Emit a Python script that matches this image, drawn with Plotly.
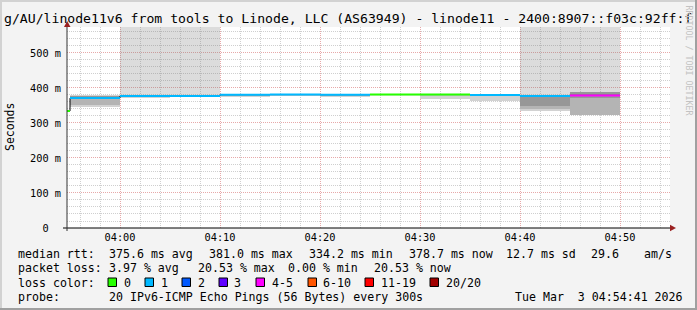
import plotly.graph_objects as go
import pandas as pd

# ---------------- data ----------------
DAY = "2026-03-03 "
step_end = ["03:55", "04:00", "04:05", "04:10", "04:15", "04:20",
            "04:25", "04:30", "04:35", "04:40", "04:45", "04:50"]
median_ms = [334.2, 371.0, 377.0, 377.0, 380.5, 381.0,
             380.5, 381.0, 381.0, 380.0, 377.0, 378.7]
loss_pings = [0, 1, 1, 1, 1, 1, 1, 0, 0, 1, 1, 4]
# smoke layers (ms)
light_lo = [334.2, 346, 372, 375, 374, 379, 373, 380, 369, 363, 335, 323]
light_hi = [334.2, 379, 377, 378, 381, 381, 381, 382, 381, 381, 377, 389]
mid_lo = [334.2, 352, 377, 377, 380.5, 381, 380.5, 381, 381, 380, 340, 323]
mid_hi = [334.2, 378, 377, 377, 380.5, 381, 380.5, 381, 381, 380, 376, 389]
dark_lo = [334.2, 368, 377, 377, 380.5, 381, 380.5, 381, 381, 380, 348, 372]
dark_hi = [334.2, 378, 377, 377, 380.5, 381, 380.5, 381, 381, 380, 376, 389]
loss_shade = [0, 0, 1, 1, 0, 0, 0, 0, 0, 0, 1, 1]

loss_labels = ["0", "1", "2", "3", "4-5", "6-10", "11-19", "20/20"]
loss_max = [0, 1, 2, 3, 5, 10, 19, 20]
loss_colors = ["#26ff00", "#00b8ff", "#0059ff", "#5e00ff",
               "#ff00ff", "#ff5500", "#ff0000", "#a10000"]

y_ticks = [0, 100, 200, 300, 400, 500]
y_ticktext = ["0\u00a0\u00a0", "100 m", "200 m", "300 m", "400 m", "500 m"]
x_ticks = ["04:00", "04:10", "04:20", "04:30", "04:40", "04:50"]

title_text = "g/AU/linode11v6 from tools to Linode, LLC (AS63949) - linode11 - 2400:8907::f03c:92ff:f"
rtt_stats = ["median rtt:", "375.6 ms avg", "381.0 ms max", "334.2 ms min",
             "378.7 ms now", "12.7 ms sd", "29.6", "am/s"]
loss_stats = ["packet loss:", "3.97 % avg", "20.53 % max", "0.00 % min", "20.53 % now"]
probe_stats = ["probe:", "20 IPv6-ICMP Echo Pings (56 Bytes) every 300s",
               "Tue Mar\u00a0\u00a03 04:54:41 2026"]

STEP_S = 300
Y_TOP = 574
X_RANGE = [DAY + "03:54:42", DAY + "04:55:00"]

# ---------------- geometry helpers ----------------
W, H = 697, 310
ML, MR, MT, MB = 67, 27, 27, 82
PW, PH = W - ML - MR, H - MT - MB
def px(x):
    return (x - ML) / PW
def py(y):
    return (H - MB - y) / PH

MONO = "DejaVu Sans Mono"

ends = pd.to_datetime([DAY + t for t in step_end])
starts = ends - pd.Timedelta(seconds=STEP_S)

def loss_idx(n):
    for i, m in enumerate(loss_max):
        if n <= m:
            return i
    return len(loss_max) - 1

fig = go.Figure()

def smoke(lo, hi, color):
    fig.add_trace(go.Bar(
        x=ends, y=[h - l for l, h in zip(lo, hi)], base=lo,
        width=STEP_S * 1000, offset=-STEP_S * 1000,
        marker=dict(color=color, line=dict(width=0)),
        showlegend=False, hoverinfo="skip"))

# loss background to top
shade_base = [h for h in light_hi]
shade_h = [(Y_TOP - b) if s else 0 for b, s in zip(shade_base, loss_shade)]
fig.add_trace(go.Bar(
    x=ends, y=shade_h, base=shade_base,
    width=STEP_S * 1000, offset=-STEP_S * 1000,
    marker=dict(color="rgba(120,120,120,0.26)", line=dict(width=0)),
    showlegend=False, hoverinfo="skip"))

smoke(light_lo, light_hi, "#d2d2d2")
smoke(mid_lo, mid_hi, "#b4b4b4")
smoke(dark_lo, dark_hi, "#979797")

# black step connector
fig.add_trace(go.Scatter(
    x=list(starts) + [ends[-1]], y=median_ms + [median_ms[-1]],
    mode="lines", line=dict(color="#000000", width=1, shape="hv"),
    showlegend=False, hoverinfo="skip"))

# colored median segments
for ci, col in enumerate(loss_colors):
    xs, ys = [], []
    for s, e, m, n in zip(starts, ends, median_ms, loss_pings):
        if loss_idx(n) == ci:
            xs += [s, e, None]
            ys += [m, m, None]
    if xs:
        fig.add_trace(go.Scatter(
            x=xs, y=ys, mode="lines", line=dict(color=col, width=2),
            showlegend=False, hoverinfo="skip"))

# ---------------- layout ----------------
grid_major = "#e7a9a9"
grid_minor = "#cfcfcf"
fig.update_layout(
    width=W, height=H,
    margin=dict(l=ML, r=MR, t=MT, b=MB, pad=0),
    paper_bgcolor="#f3f3f3", plot_bgcolor="#ffffff",
    barmode="overlay", bargap=0,
    showlegend=False,
    font=dict(family=MONO, color="#000000"),
    xaxis=dict(
        type="date", range=X_RANGE,
        tickvals=[DAY + t for t in x_ticks], ticktext=x_ticks,
        tickfont=dict(family=MONO, size=10.3, color="#000000"),
        showgrid=True, gridcolor=grid_major, griddash="1px,1px", gridwidth=1,
        minor=dict(dtick=120000, tick0=DAY + "04:00", showgrid=True,
                   gridcolor=grid_minor, griddash="1px,1px", gridwidth=1),
        zeroline=False, showline=False, ticks="", ticklabelstandoff=2,
        fixedrange=True,
    ),
    yaxis=dict(
        range=[0, Y_TOP],
        tickvals=y_ticks, ticktext=y_ticktext,
        tickfont=dict(family=MONO, size=10.3, color="#000000"),
        showgrid=True, gridcolor=grid_major, griddash="1px,1px", gridwidth=1,
        minor=dict(dtick=20, tick0=0, showgrid=True,
                   gridcolor=grid_minor, griddash="1px,1px", gridwidth=1),
        zeroline=False, showline=False, ticks="", ticklabelstandoff=5,
        fixedrange=True,
    ),
)

shapes = []
# frame
shapes.append(dict(type="line", xref="paper", yref="paper",
                   x0=px(0), x1=px(W), y0=py(1), y1=py(1),
                   line=dict(color="#d2d2d2", width=2)))
shapes.append(dict(type="line", xref="paper", yref="paper",
                   x0=px(1), x1=px(1), y0=py(0), y1=py(H),
                   line=dict(color="#d2d2d2", width=2)))
shapes.append(dict(type="line", xref="paper", yref="paper",
                   x0=px(0), x1=px(W), y0=py(H - 1), y1=py(H - 1),
                   line=dict(color="#a0a0a0", width=2)))
shapes.append(dict(type="line", xref="paper", yref="paper",
                   x0=px(W - 1), x1=px(W - 1), y0=py(0), y1=py(H),
                   line=dict(color="#a0a0a0", width=2)))
# axes
shapes.append(dict(type="line", xref="paper", yref="paper",
                   x0=px(63), x1=px(672), y0=0, y1=0,
                   line=dict(color="#000000", width=1)))
shapes.append(dict(type="line", xref="paper", yref="paper",
                   x0=0, x1=0, y0=py(231), y1=py(25),
                   line=dict(color="#333333", width=1)))
# arrows
shapes.append(dict(type="path", xref="paper", yref="paper",
                   path=f"M {px(64)} {py(27)} L {px(70.5)} {py(27)} L {px(67.2)} {py(21)} Z",
                   fillcolor="#9a2020", line=dict(width=0)))
shapes.append(dict(type="path", xref="paper", yref="paper",
                   path=f"M {px(670)} {py(224.8)} L {px(670)} {py(231.2)} L {px(676)} {py(228)} Z",
                   fillcolor="#9a2020", line=dict(width=0)))

annotations = []
def txt(text, x, y, size=11.6, anchor="left", color="#000000", angle=0):
    annotations.append(dict(text=text, xref="paper", yref="paper",
                            x=px(x), y=py(y), xanchor=anchor, yanchor="middle",
                            showarrow=False, textangle=angle,
                            font=dict(family=MONO, size=size, color=color)))

txt(title_text, 2, 18, size=13.15)
txt("Seconds", 10, 127, size=11.5, anchor="center", angle=-90)
txt("RRDTOOL / TOBI OETIKER", 688.5, 60, size=8.3, anchor="center",
    color="#c2c2c2", angle=90)

rtt_x = [16, 107, 207, 307, 407, 504, 589, 642]
for t, x in zip(rtt_stats, rtt_x):
    txt(t, x, 253.5)
loss_x = [16, 107, 196, 286, 372]
for t, x in zip(loss_stats, loss_x):
    txt(t, x, 268)
txt("loss color:", 16, 282.5)
box_x = [108, 145, 182, 219, 256, 308, 365, 430]
lab_x = [122, 159, 196, 232, 270, 321, 379, 444]
for lab, col, bx, lx in zip(loss_labels, loss_colors, box_x, lab_x):
    shapes.append(dict(type="rect", xref="paper", yref="paper",
                       x0=px(bx), x1=px(bx + 8.5), y0=py(286.5), y1=py(278),
                       fillcolor=col, line=dict(color="#000000", width=1)))
    txt(lab, lx, 282.5)
probe_x = [16, 107, 513]
for t, x in zip(probe_stats, probe_x):
    txt(t, x, 297)

fig.update_layout(shapes=shapes, annotations=annotations)
fig.write_html("out.html")
